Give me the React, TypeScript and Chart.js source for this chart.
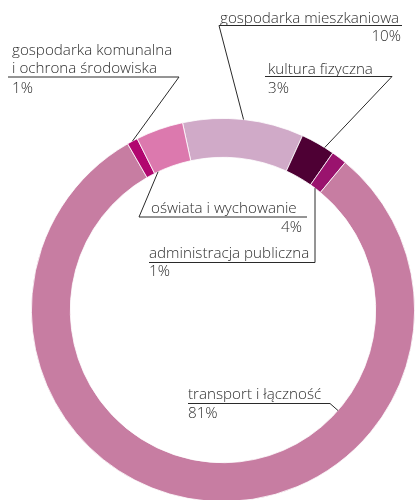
import React, { useEffect, useRef } from "react";
import { Chart, registerables } from "chart.js";

Chart.register(...registerables);

const categories = [
  "gospodarka mieszkaniowa",
  "kultura fizyczna",
  "administracja publiczna",
  "transport i łączność",
  "gospodarka komunalna i ochrona środowiska",
  "oświata i wychowanie",
];
const shares = [10.2, 2.9, 1.3, 80.7, 0.9, 4.0];
const percentLabels = ["10%", "3%", "1%", "81%", "1%", "4%"];
const sliceColors = ["#D0AAC8", "#4E0034", "#9A136E", "#C77DA2", "#B1066F", "#DC79AE"];

type LabelSpec = {
  index: number;
  lines: string[];
  textX: number;
  baselines: number[];
  lineY: number;
  lineX1: number;
  lineX2: number;
  pctX: number;
  pctY: number;
  pctAlign: CanvasTextAlign;
  from: "left" | "right";
  frac: number;
  ring: "outer" | "inner";
  vertical?: boolean;
};

const labelSpecs: LabelSpec[] = [
  { index: 0, lines: [categories[0]], textX: 220, baselines: [22.5], lineY: 25.5, lineX1: 219, lineX2: 402, pctX: 401, pctY: 40.5, pctAlign: "right", from: "left", frac: 0.5, ring: "outer" },
  { index: 1, lines: [categories[1]], textX: 268, baselines: [74], lineY: 76.5, lineX1: 265, lineX2: 392, pctX: 268, pctY: 92.5, pctAlign: "left", from: "right", frac: 0.72, ring: "outer" },
  { index: 4, lines: ["gospodarka komunalna", "i ochrona środowiska"], textX: 12, baselines: [55, 73], lineY: 77, lineX1: 8, lineX2: 179, pctX: 12, pctY: 92.5, pctAlign: "left", from: "right", frac: 0.5, ring: "outer" },
  { index: 5, lines: [categories[5]], textX: 151, baselines: [212.5], lineY: 217, lineX1: 139, lineX2: 307, pctX: 302, pctY: 232, pctAlign: "right", from: "left", frac: 0.1, ring: "inner" },
  { index: 2, lines: [categories[2]], textX: 149, baselines: [257.5], lineY: 262.5, lineX1: 149, lineX2: 315, pctX: 149, pctY: 275.5, pctAlign: "left", from: "right", frac: 0.5, ring: "inner", vertical: true },
  { index: 3, lines: [categories[3]], textX: 188, baselines: [398.5], lineY: 403.5, lineX1: 188, lineX2: 330, pctX: 188, pctY: 417.5, pctAlign: "left", from: "right", frac: 0.315, ring: "inner" },
];

const FONT = '300 15.2px "Open Sans", sans-serif';

const labelPlugin = {
  id: "leaderLabels",
  afterDraw(chart: any) {
    const ctx: CanvasRenderingContext2D = chart.ctx;
    const meta = chart.getDatasetMeta(0);
    ctx.save();
    ctx.font = FONT;
    ctx.fillStyle = "#2e2e2e";
    ctx.strokeStyle = "#2a2a2a";
    ctx.lineWidth = 1;
    ctx.textBaseline = "alphabetic";
    for (const s of labelSpecs) {
      const arc = meta.data[s.index];
      const { x: cx, y: cy, startAngle, endAngle, innerRadius, outerRadius } = arc.getProps(
        ["x", "y", "startAngle", "endAngle", "innerRadius", "outerRadius"],
        true
      );
      const r = s.ring === "outer" ? outerRadius : innerRadius;
      let tx: number, ty: number;
      const sx = s.from === "left" ? s.lineX1 : s.lineX2;
      if (s.vertical) {
        tx = sx;
        ty = cy - Math.sqrt(Math.max(r * r - (sx - cx) * (sx - cx), 0));
      } else {
        const a = startAngle + (endAngle - startAngle) * s.frac;
        tx = cx + Math.cos(a) * r;
        ty = cy + Math.sin(a) * r;
      }
      ctx.beginPath();
      ctx.moveTo(s.lineX1, s.lineY);
      ctx.lineTo(s.lineX2, s.lineY);
      ctx.moveTo(sx, s.lineY);
      ctx.lineTo(tx, ty);
      ctx.stroke();
      ctx.textAlign = "left";
      s.lines.forEach((ln, i) => ctx.fillText(ln, s.textX, s.baselines[i]));
      ctx.textAlign = s.pctAlign;
      ctx.fillText(percentLabels[s.index], s.pctX, s.pctY);
    }
    ctx.restore();
  },
};

export default function App() {
  const ref = useRef<HTMLCanvasElement>(null);
  useEffect(() => {
    document.body.style.margin = "0";
    const chart = new Chart(ref.current!, {
      type: "doughnut",
      data: {
        labels: categories,
        datasets: [
          {
            data: shares,
            backgroundColor: sliceColors,
            borderColor: "#ffffff",
            borderWidth: 0.8,
          },
        ],
      },
      options: {
        responsive: false,
        animation: false,
        devicePixelRatio: 1,
        rotation: -12.2,
        cutout: "79.7%",
        layout: { padding: { left: 31, right: 3, top: 118, bottom: 18 } },
        plugins: { legend: { display: false }, tooltip: { enabled: false } },
      },
      plugins: [labelPlugin],
    });
    return () => chart.destroy();
  }, []);
  return (
    <div style={{ position: "fixed", left: 0, top: 0, width: 418, height: 500, overflow: "hidden", background: "#fff" }}>
      <canvas ref={ref} width={418} height={520} style={{ display: "block" }} />
    </div>
  );
}
